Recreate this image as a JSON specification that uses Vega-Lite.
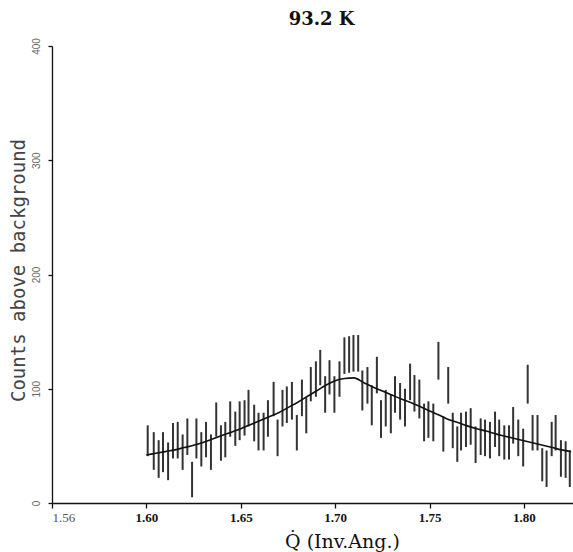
{
  "$schema": "https://vega.github.io/schema/vega-lite/v6.json",
  "width": 521,
  "height": 457,
  "autosize": {"type": "none"},
  "padding": {"left": 52, "top": 46, "right": 0, "bottom": 49},
  "background": "white",
  "title": {
    "text": "93.2 K",
    "font": "DejaVu Serif",
    "fontSize": 18,
    "fontWeight": "bold",
    "color": "#111",
    "anchor": "middle",
    "dx": 9,
    "offset": 9
  },
  "config": {
    "view": {"stroke": null},
    "axis": {"grid": false, "domainColor": "#111", "tickColor": "#111", "domainWidth": 1.3, "tickWidth": 1.3}
  },
  "datasets": {
    "bars": [
      {"q": 1.6007, "lo": 41, "hi": 68}, {"q": 1.6039, "lo": 29, "hi": 62}, {"q": 1.6065, "lo": 22, "hi": 55},
      {"q": 1.6088, "lo": 27, "hi": 62}, {"q": 1.6115, "lo": 20, "hi": 53}, {"q": 1.6141, "lo": 39, "hi": 70},
      {"q": 1.6166, "lo": 39, "hi": 71}, {"q": 1.6192, "lo": 29, "hi": 60}, {"q": 1.6217, "lo": 42, "hi": 74},
      {"q": 1.6242, "lo": 5, "hi": 36}, {"q": 1.6265, "lo": 39, "hi": 74}, {"q": 1.6291, "lo": 32, "hi": 62},
      {"q": 1.6316, "lo": 40, "hi": 71}, {"q": 1.6342, "lo": 29, "hi": 60}, {"q": 1.6370, "lo": 58, "hi": 88},
      {"q": 1.6395, "lo": 37, "hi": 68}, {"q": 1.6418, "lo": 40, "hi": 71}, {"q": 1.6444, "lo": 58, "hi": 89},
      {"q": 1.6471, "lo": 50, "hi": 80}, {"q": 1.6494, "lo": 55, "hi": 89}, {"q": 1.6520, "lo": 59, "hi": 90},
      {"q": 1.6541, "lo": 67, "hi": 99}, {"q": 1.6571, "lo": 54, "hi": 86}, {"q": 1.6594, "lo": 46, "hi": 79},
      {"q": 1.6621, "lo": 46, "hi": 79}, {"q": 1.6644, "lo": 58, "hi": 90}, {"q": 1.6674, "lo": 76, "hi": 106},
      {"q": 1.6695, "lo": 41, "hi": 73}, {"q": 1.6721, "lo": 67, "hi": 99}, {"q": 1.6744, "lo": 70, "hi": 102},
      {"q": 1.6771, "lo": 73, "hi": 106}, {"q": 1.6797, "lo": 46, "hi": 77}, {"q": 1.6824, "lo": 76, "hi": 108},
      {"q": 1.6847, "lo": 61, "hi": 92}, {"q": 1.6871, "lo": 89, "hi": 119}, {"q": 1.6898, "lo": 93, "hi": 124},
      {"q": 1.6921, "lo": 103, "hi": 134}, {"q": 1.6947, "lo": 79, "hi": 111}, {"q": 1.6970, "lo": 95, "hi": 125},
      {"q": 1.6996, "lo": 79, "hi": 111}, {"q": 1.7023, "lo": 93, "hi": 124}, {"q": 1.7049, "lo": 113, "hi": 145},
      {"q": 1.7074, "lo": 114, "hi": 146}, {"q": 1.7097, "lo": 115, "hi": 147}, {"q": 1.7122, "lo": 115, "hi": 147},
      {"q": 1.7144, "lo": 81, "hi": 116}, {"q": 1.7171, "lo": 87, "hi": 119}, {"q": 1.7194, "lo": 68, "hi": 103},
      {"q": 1.7221, "lo": 96, "hi": 128}, {"q": 1.7243, "lo": 57, "hi": 90}, {"q": 1.7268, "lo": 67, "hi": 99},
      {"q": 1.7295, "lo": 61, "hi": 95}, {"q": 1.7317, "lo": 79, "hi": 111}, {"q": 1.7344, "lo": 73, "hi": 105},
      {"q": 1.7370, "lo": 67, "hi": 100}, {"q": 1.7397, "lo": 90, "hi": 122}, {"q": 1.7420, "lo": 80, "hi": 112},
      {"q": 1.7446, "lo": 74, "hi": 108}, {"q": 1.7471, "lo": 54, "hi": 87}, {"q": 1.7494, "lo": 57, "hi": 89},
      {"q": 1.7520, "lo": 54, "hi": 87}, {"q": 1.7547, "lo": 108, "hi": 141}, {"q": 1.7573, "lo": 45, "hi": 76},
      {"q": 1.7599, "lo": 87, "hi": 119}, {"q": 1.7623, "lo": 48, "hi": 79}, {"q": 1.7647, "lo": 36, "hi": 67},
      {"q": 1.7667, "lo": 46, "hi": 79}, {"q": 1.7693, "lo": 49, "hi": 80}, {"q": 1.7718, "lo": 51, "hi": 83},
      {"q": 1.7744, "lo": 35, "hi": 67}, {"q": 1.7771, "lo": 42, "hi": 74}, {"q": 1.7794, "lo": 41, "hi": 73},
      {"q": 1.7820, "lo": 39, "hi": 71}, {"q": 1.7847, "lo": 49, "hi": 80}, {"q": 1.7869, "lo": 41, "hi": 73},
      {"q": 1.7896, "lo": 38, "hi": 68}, {"q": 1.7921, "lo": 38, "hi": 68}, {"q": 1.7943, "lo": 52, "hi": 84},
      {"q": 1.7970, "lo": 41, "hi": 73}, {"q": 1.7996, "lo": 32, "hi": 65}, {"q": 1.8020, "lo": 87, "hi": 121},
      {"q": 1.8046, "lo": 46, "hi": 77}, {"q": 1.8072, "lo": 46, "hi": 77}, {"q": 1.8097, "lo": 19, "hi": 48},
      {"q": 1.8120, "lo": 14, "hi": 46}, {"q": 1.8147, "lo": 41, "hi": 71}, {"q": 1.8168, "lo": 46, "hi": 77},
      {"q": 1.8196, "lo": 23, "hi": 55}, {"q": 1.8221, "lo": 22, "hi": 54}, {"q": 1.8243, "lo": 14, "hi": 46}
    ],
    "fit": [
      {"q": 1.600, "c": 42}, {"q": 1.605, "c": 43.5}, {"q": 1.610, "c": 45}, {"q": 1.615, "c": 46.5},
      {"q": 1.620, "c": 48.5}, {"q": 1.625, "c": 50.5}, {"q": 1.630, "c": 53}, {"q": 1.635, "c": 56},
      {"q": 1.640, "c": 59}, {"q": 1.645, "c": 62}, {"q": 1.650, "c": 65}, {"q": 1.655, "c": 68.5},
      {"q": 1.660, "c": 72}, {"q": 1.665, "c": 75.5}, {"q": 1.670, "c": 79}, {"q": 1.675, "c": 83.5},
      {"q": 1.680, "c": 88}, {"q": 1.685, "c": 93}, {"q": 1.690, "c": 98}, {"q": 1.695, "c": 103},
      {"q": 1.700, "c": 107}, {"q": 1.705, "c": 109}, {"q": 1.710, "c": 109.5}, {"q": 1.715, "c": 105.5},
      {"q": 1.720, "c": 101.5}, {"q": 1.725, "c": 98}, {"q": 1.730, "c": 94.5}, {"q": 1.735, "c": 91},
      {"q": 1.740, "c": 88}, {"q": 1.745, "c": 84.5}, {"q": 1.750, "c": 80.5}, {"q": 1.755, "c": 77},
      {"q": 1.760, "c": 73}, {"q": 1.765, "c": 70.5}, {"q": 1.770, "c": 67.5}, {"q": 1.775, "c": 65},
      {"q": 1.780, "c": 63}, {"q": 1.785, "c": 60.5}, {"q": 1.790, "c": 58.5}, {"q": 1.795, "c": 56.5},
      {"q": 1.800, "c": 54.5}, {"q": 1.805, "c": 52.5}, {"q": 1.810, "c": 50.5}, {"q": 1.815, "c": 48.5},
      {"q": 1.820, "c": 46.5}, {"q": 1.825, "c": 45}
    ]
  },
  "encoding": {
    "x": {
      "field": "q",
      "type": "quantitative",
      "scale": {"domain": [1.55, 1.826], "nice": false, "zero": false},
      "axis": {
        "values": [1.55, 1.6, 1.65, 1.7, 1.75, 1.8],
        "labelExpr": "datum.value < 1.56 ? '1.56' : format(datum.value, '.2f')",
        "title": "Q̇ (Inv.Ang.)",
        "titleFont": "DejaVu Serif",
        "titleFontSize": 19,
        "titleFontWeight": "normal",
        "titleColor": "#111",
        "titleX": 290,
        "titleY": 44,
        "titleAlign": "center",
        "titleBaseline": "alphabetic",
        "labelFont": "Liberation Serif",
        "labelFontSize": 13,
        "labelFontWeight": {"condition": {"test": "datum.value < 1.56", "value": "normal"}, "value": "bold"},
        "labelColor": {"condition": {"test": "datum.value < 1.56", "value": "#555"}, "value": "#111"},
        "labelAlign": {"condition": {"test": "datum.value < 1.56", "value": "left"}, "value": "center"},
        "labelPadding": 3,
        "tickSize": 5,
        "labelFlush": false,
        "labelOverlap": false
      }
    }
  },
  "layer": [
    {
      "data": {"name": "bars"},
      "mark": {"type": "rule", "color": "#333", "strokeWidth": 2},
      "encoding": {
        "y": {
          "field": "lo",
          "type": "quantitative",
          "scale": {"domain": [0, 400], "nice": false},
          "axis": {
            "values": [0, 100, 200, 300, 400],
            "title": "Counts above background",
            "titleFont": "DejaVu Sans Mono",
            "titleFontSize": 19,
            "titleFontWeight": "normal",
            "titleColor": "#444",
            "titleAngle": -90,
            "titleX": -34,
            "titleY": 224,
            "titleAlign": "center",
            "titleBaseline": "middle",
            "labelFont": "Liberation Sans",
            "labelFontSize": 10,
            "labelColor": "#666",
            "labelAngle": -90,
            "labelAlign": "center",
            "labelBaseline": "bottom",
            "labelPadding": 7,
            "tickSize": 4,
            "labelFlush": false
          }
        },
        "y2": {"field": "hi"}
      }
    },
    {
      "data": {"name": "fit"},
      "mark": {"type": "line", "color": "#111", "strokeWidth": 1.6, "interpolate": "monotone"},
      "encoding": {
        "y": {"field": "c", "type": "quantitative"}
      }
    }
  ]
}
